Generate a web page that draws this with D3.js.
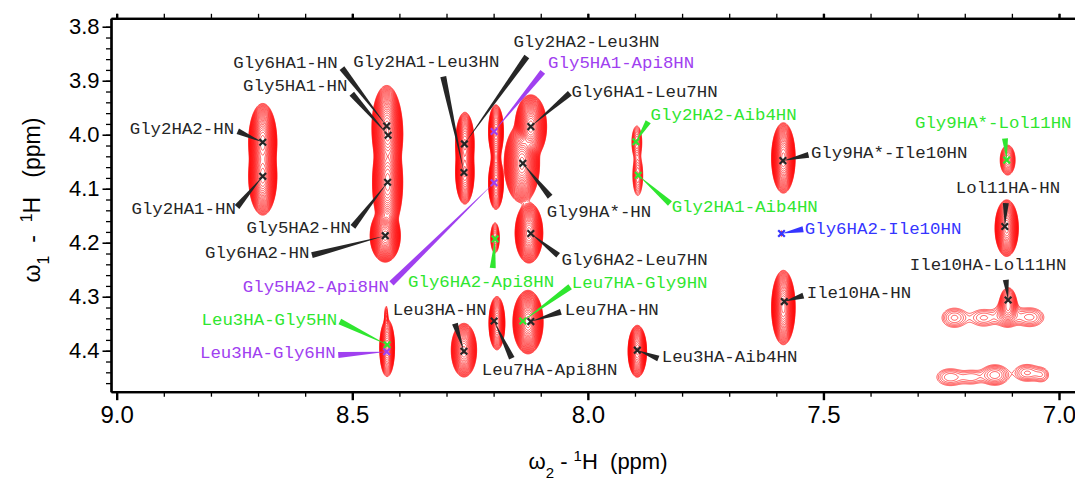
<!DOCTYPE html>
<html>
<head>
<meta charset="utf-8">
<script src="https://cdn.jsdelivr.net/npm/d3@7"></script>
<style>
  body { margin: 0; background: #fff; }
  text { white-space: pre; }
</style>
</head>
<body>
<svg id="chart" width="1075" height="481"></svg>
<script>
// ---------------------------------------------------------------
// 2D 1H-1H NOESY, fingerprint (HA / HN) region
// ---------------------------------------------------------------

// Line-shape components of the spectrum (ppm): centre in ω2 (HN), centre in ω1 (HA),
// Gaussian width in each dimension, and relative intensity.
const compH2 = [8.690, 8.690, 8.427, 8.424, 8.425, 8.430, 8.426, 8.428, 8.261, 8.261,
                8.195, 8.195, 8.195, 8.197, 8.121, 8.140, 8.125, 8.127, 8.193, 8.263,
                7.896, 7.894, 7.585, 7.589, 7.585, 7.895, 7.109, 7.111, 7.108,
                7.222, 7.160, 7.110, 7.062, 7.231, 7.185, 7.136, 7.068, 7.036];
const compH1 = [4.014, 4.077, 3.984, 4.002, 4.088, 4.187, 4.395, 4.339, 4.017, 4.070,
                3.994, 4.089, 4.041, 4.191, 3.985, 4.053, 4.182, 4.347, 4.349, 4.399,
                4.014, 4.075, 4.043, 4.183, 4.320, 4.401, 4.047, 4.173, 4.315,
                4.339, 4.339, 4.333, 4.338, 4.449, 4.449, 4.445, 4.441, 4.445];
const compW2 = [0.0085, 0.0085, 0.0091, 0.0091, 0.0091, 0.0091, 0.0055, 0.0021, 0.0062, 0.0062,
                0.0053, 0.0053, 0.0042, 0.0042, 0.0095, 0.0105, 0.0085, 0.0091, 0.0057, 0.0085,
                0.0051, 0.0051, 0.0074, 0.0021, 0.0074, 0.0062, 0.0068, 0.0076, 0.0074,
                0.0170, 0.0190, 0.0150, 0.0190, 0.0190, 0.0160, 0.0170, 0.0170, 0.0110];
const compW1 = [0.0204, 0.0204, 0.0222, 0.0222, 0.0259, 0.0139, 0.0185, 0.0148, 0.0185, 0.0185,
                0.0167, 0.0167, 0.0185, 0.0130, 0.0167, 0.0204, 0.0161, 0.0167, 0.0167, 0.0157,
                0.0148, 0.0185, 0.0193, 0.0046, 0.0204, 0.0152, 0.0119, 0.0161, 0.0130,
                0.0115, 0.0111, 0.0130, 0.0111, 0.0105, 0.0095, 0.0110, 0.0102, 0.0095];
const compAmp = [500, 500, 300, 300, 500, 500, 60, 3, 150, 150,
                 80, 80, 10, 10, 500, 600, 400, 500, 80, 150,
                 8, 8, 300, 2, 300, 150, 15, 200, 20,
                 3.3, 2.6, 4.5, 3.4, 3, 2.2, 4.5, 3.2, 2];

// Assigned cross peaks
const assignName = ["Gly2HA2-HN", "Gly2HA1-HN", "Gly6HA1-HN", "Gly5HA1-HN", "Gly5HA2-HN",
                    "Gly6HA2-HN", "Gly5HA2-Api8HN", "Leu3HA-Gly5HN", "Leu3HA-Gly6HN", "Gly2HA1-Leu3HN",
                    "Gly2HA2-Leu3HN", "Gly5HA1-Api8HN", "Gly6HA1-Leu7HN", "Gly9HA*-HN", "Gly6HA2-Leu7HN",
                    "Gly6HA2-Api8HN", "Leu7HA-Gly9HN", "Leu7HA-HN", "Leu7HA-Api8HN", "Leu3HA-HN",
                    "Gly2HA2-Aib4HN", "Gly2HA1-Aib4HN", "Gly9HA*-Ile10HN", "Gly6HA2-Ile10HN", "Ile10HA-HN",
                    "Leu3HA-Aib4HN", "Gly9HA*-Lol11HN", "Lol11HA-HN", "Ile10HA-Lol11HN"];
const assignH2 = [8.690, 8.690, 8.427, 8.424, 8.425, 8.430, 8.199, 8.426, 8.427, 8.263,
                  8.262, 8.199, 8.121, 8.138, 8.121, 8.197, 8.138, 8.121, 8.199, 8.263,
                  7.898, 7.893, 7.586, 7.589, 7.583, 7.895, 7.111, 7.115, 7.108];
const assignH1 = [4.014, 4.077, 3.984, 4.001, 4.088, 4.187, 4.089, 4.389, 4.402, 4.070,
                  4.017, 3.994, 3.985, 4.053, 4.183, 4.193, 4.345, 4.346, 4.345, 4.401,
                  4.013, 4.075, 4.048, 4.183, 4.309, 4.399, 4.047, 4.170, 4.306];
// Sequence separation of the two protons (0 = intraresidue, 1 = i,i+1, ...)
const assignRange = [0, 0, 0, 0, 0, 0, 3, 2, 3, 1,
                     1, 3, 1, 0, 1, 2, 2, 0, 1, 0,
                     2, 2, 1, 4, 0, 1, 2, 0, 1];

// Label placement: text start and leader start, offset from the peak (px)
const labelDx  = [-133, -131.3, -153.4, -145, -141, -180.3, -251.3, -185.6, -186.7, -110.7,
                  49, 54, 40.7, 24, 30.7, -87, 49, 34, -12.3, -71.3,
                  14.7, 33.4, 28, 23.3, 22.4, 24.4, -91.7, -49, -98.3];
const labelDy  = [-8.7, 37.3, -57.7, -43.8, 51, 22.8, 109, -20, 6.6, -106,
                  -97.3, -63.4, -30, 53.4, 31.7, 47.7, -32.7, -6.7, 54, -36,
                  -21.7, 36.7, -2.4, 0, -3.4, 11.7, -31.7, -33.4, -30];
const leaderDx = [-25, -25.7, -44.7, -36.3, -34.7, -73.3, -102.6, -47.3, -48.4, -20.7,
                  62.4, 48.7, 39, 27.3, 27.3, -2.3, 47.3, 30, 17.7, -9,
                  12.3, 31.7, 25.6, 21.6, 19, 21, -1.7, 1, -2.3];
const leaderDy = [-11, 30.7, -58, -41.5, 44.7, 19.5, 100.6, -23.3, 3.3, -96,
                  -87.3, -59.7, -33.4, 33.4, 21.7, 29, -34.3, -9.7, 37.3, -27.7,
                  -20, 28.3, -5.7, -4.3, -5.9, 8.3, -21.7, -23.4, -20];

// Axis ticks
const xMajorTicks = [9.0, 8.5, 8.0, 7.5, 7.0];
const yMajorTicks = [3.8, 3.9, 4.0, 4.1, 4.2, 4.3, 4.4];
const xMinorTicks = d3.range(90, 69, -1).map(v => v / 10);
const yMinorTicks = d3.range(190, 224, 1).map(v => v / 50);

// ---------------------------------------------------------------
const rangeColor = ["#262626", "#262626", "#2fe62f", "#a040f0", "#3535ff"];

const svg = d3.select("#chart");
const frame = { left: 111, top: 18.3, right: 1082, bottom: 391.7 };

// ppm axes run right-to-left (ω2) and top-to-bottom (ω1)
const x = d3.scaleLinear().domain([9.0121, 6.9512]).range([frame.left, frame.right]);
const y = d3.scaleLinear().domain([3.7844, 4.4759]).range([frame.top, frame.bottom]);

svg.append("defs").append("clipPath").attr("id", "plotClip")
  .append("rect")
  .attr("x", frame.left).attr("y", frame.top)
  .attr("width", frame.right - frame.left).attr("height", frame.bottom - frame.top);

// ----- contour map computed on a pixel grid -----
const gx0 = Math.floor(frame.left), gy0 = Math.floor(frame.top);
const gw = Math.ceil(frame.right) - gx0, gh = Math.ceil(frame.bottom) - gy0;
const grid = new Float64Array(gw * gh);
compH2.forEach((h2, i) => {
  const cx = x(h2) - gx0, cy = y(compH1[i]) - gy0;
  const sx = Math.abs(x(h2 + compW2[i]) - x(h2));
  const sy = Math.abs(y(compH1[i] + compW1[i]) - y(compH1[i]));
  const a = compAmp[i];
  const i0 = Math.max(0, Math.floor(cx - 6 * sx)), i1 = Math.min(gw - 1, Math.ceil(cx + 6 * sx));
  const j0 = Math.max(0, Math.floor(cy - 6 * sy)), j1 = Math.min(gh - 1, Math.ceil(cy + 6 * sy));
  for (let j = j0; j <= j1; j++) {
    const dy = (j + 0.5 - cy) / sy;
    for (let k = i0; k <= i1; k++) {
      const dx = (k + 0.5 - cx) / sx;
      grid[j * gw + k] += a * Math.exp(-0.5 * (dx * dx + dy * dy));
    }
  }
});
const levels = d3.range(0, 30).map(k => Math.pow(1.25, k));
const contours = d3.contours().size([gw, gh]).thresholds(levels)(grid);

svg.append("g")
  .attr("clip-path", "url(#plotClip)")
  .append("g")
  .attr("transform", `translate(${gx0},${gy0})`)
  .selectAll("path")
  .data(contours)
  .join("path")
  .attr("d", d3.geoPath())
  .attr("fill", "none")
  .attr("stroke", "#ff0000")
  .attr("stroke-width", 0.65);

// ----- axes -----
function styleAxis(g, width) {
  g.select(".domain").attr("stroke", "#000").attr("stroke-width", 2.2);
  g.selectAll(".tick line").attr("stroke", "#000").attr("stroke-width", width);
}
const tickFont = "'Liberation Sans', Arial, sans-serif";

// bottom
svg.append("g").attr("transform", `translate(0,${frame.bottom})`)
  .call(d3.axisBottom(x).tickValues(xMinorTicks).tickSize(5).tickSizeOuter(0).tickFormat(""))
  .call(g => styleAxis(g, 1.3));
svg.append("g").attr("transform", `translate(0,${frame.bottom})`)
  .call(d3.axisBottom(x).tickValues(xMajorTicks).tickSize(8.5).tickSizeOuter(0).tickPadding(6)
    .tickFormat(d3.format(".1f")))
  .call(g => styleAxis(g, 2.4))
  .call(g => g.selectAll("text").attr("font-family", tickFont).attr("font-size", 24).attr("fill", "#000"));
// top
svg.append("g").attr("transform", `translate(0,${frame.top})`)
  .call(d3.axisTop(x).tickValues(xMinorTicks).tickSize(4.5).tickSizeOuter(0).tickFormat(""))
  .call(g => styleAxis(g, 1.3));
svg.append("g").attr("transform", `translate(0,${frame.top})`)
  .call(d3.axisTop(x).tickValues(xMajorTicks).tickSize(4.5).tickSizeOuter(0).tickFormat(""))
  .call(g => styleAxis(g, 2.4));
// left
svg.append("g").attr("transform", `translate(${frame.left},0)`)
  .call(d3.axisLeft(y).tickValues(yMinorTicks).tickSize(5).tickSizeOuter(0).tickFormat(""))
  .call(g => styleAxis(g, 1.3));
svg.append("g").attr("transform", `translate(${frame.left},0)`)
  .call(d3.axisLeft(y).tickValues(yMajorTicks).tickSize(8.5).tickSizeOuter(0).tickPadding(3)
    .tickFormat(d3.format(".1f")))
  .call(g => styleAxis(g, 1.6))
  .call(g => g.selectAll("text").attr("font-family", tickFont).attr("font-size", 22).attr("fill", "#000"));

// axis titles
const xTitle = svg.append("text")
  .attr("x", 598).attr("y", 469).attr("text-anchor", "middle")
  .attr("font-family", tickFont).attr("font-size", 22).attr("fill", "#000");
xTitle.append("tspan").text("ω");
xTitle.append("tspan").attr("baseline-shift", "sub").attr("font-size", 15).text("2");
xTitle.append("tspan").text(" - ");
xTitle.append("tspan").attr("baseline-shift", "super").attr("font-size", 15).text("1");
xTitle.append("tspan").text("H  (ppm)");

const yTitle = svg.append("text")
  .attr("transform", "translate(40,200) rotate(-90)").attr("text-anchor", "middle")
  .attr("font-family", tickFont).attr("font-size", 23).attr("fill", "#000");
yTitle.append("tspan").text("ω");
yTitle.append("tspan").attr("baseline-shift", "sub").attr("font-size", 16).text("1");
yTitle.append("tspan").text("  -  ");
yTitle.append("tspan").attr("baseline-shift", "super").attr("font-size", 16).text("1");
yTitle.append("tspan").text("H   (ppm)");

// ----- assignments: leaders, crosses, labels -----
const peaks = assignName.map((name, i) => ({
  name,
  px: x(assignH2[i]),
  py: y(assignH1[i]),
  color: rangeColor[assignRange[i]],
  tx: labelDx[i], ty: labelDy[i],
  lx: leaderDx[i], ly: leaderDy[i]
}));

const ann = svg.append("g");
ann.selectAll("path.leader")
  .data(peaks)
  .join("path")
  .attr("class", "leader")
  .attr("fill", d => d.color)
  .attr("d", d => {
    const sx = d.px + d.lx, sy = d.py + d.ly;
    const len = Math.hypot(d.lx, d.ly);
    const nx = -d.ly / len * 3, ny = d.lx / len * 3;
    return `M${sx + nx},${sy + ny}L${sx - nx},${sy - ny}L${d.px},${d.py}Z`;
  });

ann.selectAll("path.cross")
  .data(peaks)
  .join("path")
  .attr("class", "cross")
  .attr("transform", d => `translate(${d.px},${d.py})`)
  .attr("d", "M-3.3,-3.3L3.3,3.3M-3.3,3.3L3.3,-3.3")
  .attr("stroke", d => d.color)
  .attr("stroke-width", 2.2)
  .attr("fill", "none");

ann.selectAll("text.label")
  .data(peaks)
  .join("text")
  .attr("class", "label")
  .attr("x", d => d.px + d.tx)
  .attr("y", d => d.py + d.ty)
  .attr("font-family", "'Liberation Mono', 'Courier New', monospace")
  .attr("font-size", 17.4)
  .attr("fill", d => d.color)
  .text(d => d.name);
</script>
</body>
</html>
